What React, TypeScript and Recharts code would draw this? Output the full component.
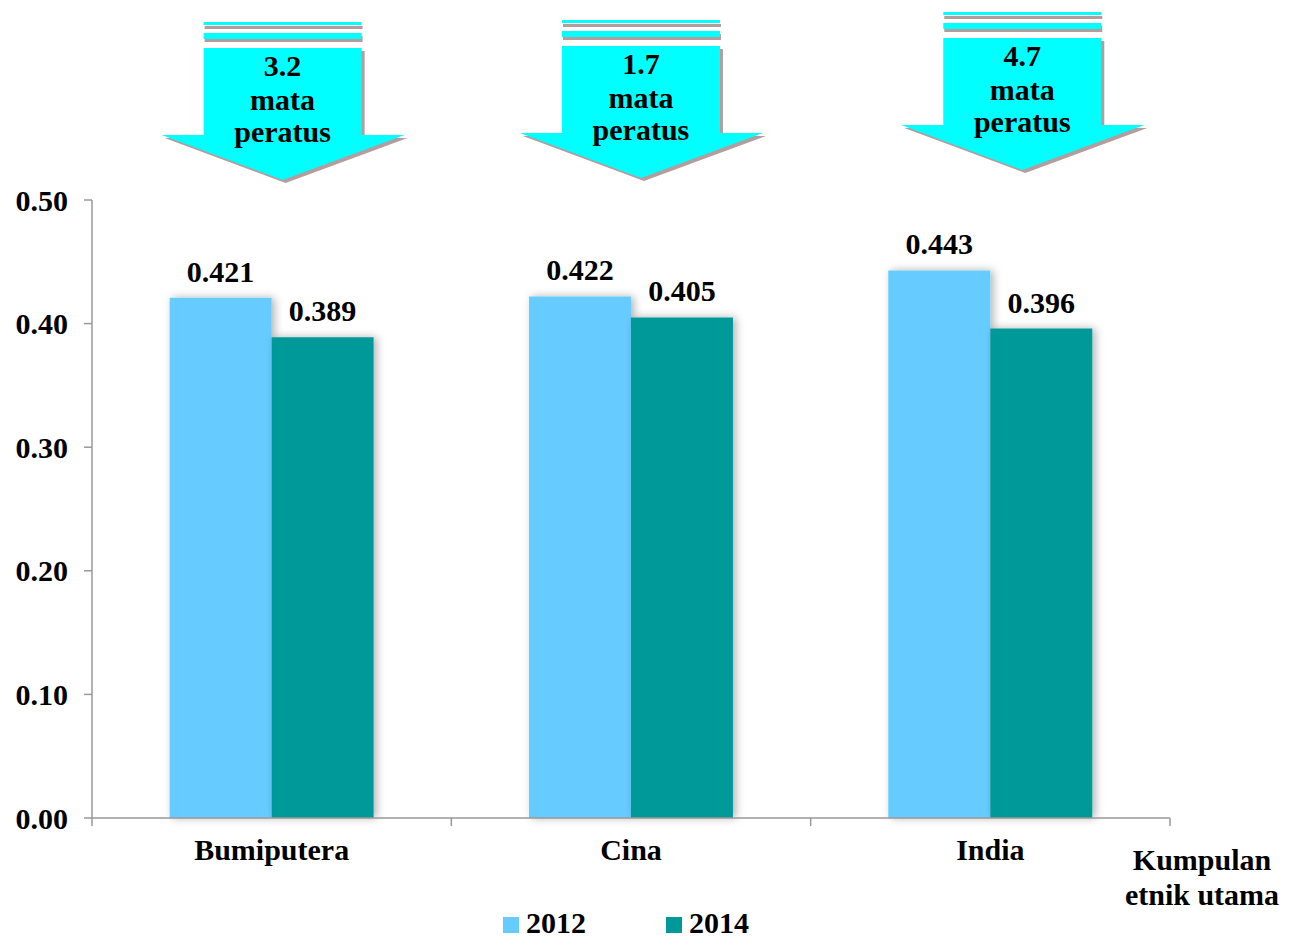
import { Bar, BarChart, Label, LabelList, Legend, XAxis, YAxis } from "recharts"

const CATEGORIES = ["Bumiputera", "Cina", "India"]
const GINI_2012 = [0.421, 0.422, 0.443]
const GINI_2014 = [0.389, 0.405, 0.396]
const DROP_TEXT = ["3.2", "1.7", "4.7"]
const Y_TICKS = [0, 0.1, 0.2, 0.3, 0.4, 0.5]

const SERIES = [
  { key: "y2012", name: "2012", color: "#66CCFF" },
  { key: "y2014", name: "2014", color: "#009999" },
]

const data = CATEGORIES.map((c, i) => ({ cat: c, y2012: GINI_2012[i], y2014: GINI_2014[i] }))

// layout
const W = 1300
const H = 939
const PLOT_LEFT = 92
const PLOT_RIGHT = 1170
const BAND = (PLOT_RIGHT - PLOT_LEFT) / CATEGORIES.length
// arrows sit a little off the category centre in the original
const ARROW_DX = [11, 10, 32]
const ARROW_TOP = [22, 20, 12]

const FONT = "'Liberation Serif', serif"
const FS = 30
const AXIS = "#999999"
const CYAN = "#00FFFF"
const SHADOW = "#b39d9d"

function Arrow({ cx, top, value }: { cx: number; top: number; value: string }) {
  const pts = [
    [cx - 79, top + 26],
    [cx + 79, top + 26],
    [cx + 79, top + 113],
    [cx + 122, top + 113],
    [cx, top + 158],
    [cx - 121, top + 113],
    [cx - 79, top + 113],
  ]
  const poly = (dx: number, dy: number) => pts.map(p => `${p[0] + dx},${p[1] + dy}`).join(" ")
  return (
    <g>
      <rect x={cx - 78} y={top + 4} width={158} height={3} fill={SHADOW} />
      <rect x={cx - 79} y={top} width={158} height={3} fill={CYAN} />
      <rect x={cx - 78} y={top + 14} width={158} height={6} fill={SHADOW} />
      <rect x={cx - 79} y={top + 11} width={158} height={6} fill={CYAN} />
      <polygon points={poly(3, 3)} fill={SHADOW} />
      <polygon points={poly(0, 0)} fill={CYAN} />
      <g fontFamily={FONT} fontSize={FS} fontWeight="bold" textAnchor="middle" fill="#000">
        <text x={cx} y={top + 54}>{value}</text>
        <text x={cx} y={top + 88}>mata</text>
        <text x={cx} y={top + 120}>peratus</text>
      </g>
    </g>
  )
}

function renderArrow(props: any) {
  const vb = props.viewBox ?? props
  const i = props.index ?? 0
  const cx = vb.x + ARROW_DX[i]
  return <Arrow key={`arrow-${i}`} cx={cx} top={ARROW_TOP[i]} value={DROP_TEXT[i]} />
}

function CatTick(props: any) {
  const { x, y, payload } = props
  const i = props.index ?? payload?.index ?? 0
  const axisY = y - 8
  const left = PLOT_LEFT + i * BAND
  return (
    <g>
      <line x1={left} x2={left} y1={axisY} y2={axisY + 8} stroke={AXIS} strokeWidth={1.5} />
      {i === CATEGORIES.length - 1 && (
        <line x1={left + BAND} x2={left + BAND} y1={axisY} y2={axisY + 8} stroke={AXIS} strokeWidth={1.5} />
      )}
      <text x={x} y={y + 34} textAnchor="middle" fontFamily={FONT} fontSize={FS} fontWeight="bold" fill="#000">
        {payload.value}
      </text>
    </g>
  )
}

function AxisTitle(props: any) {
  const vb = props.viewBox
  const x = vb.x + vb.width + 32
  return (
    <g fontFamily={FONT} fontSize={FS} fontWeight="bold" textAnchor="middle" fill="#000">
      <text x={x} y={vb.y + 52}>Kumpulan</text>
      <text x={x} y={vb.y + 87}>etnik utama</text>
    </g>
  )
}

function LegendBox() {
  return (
    <div style={{ display: "flex", justifyContent: "center", paddingRight: 48, gap: 80, height: 30, lineHeight: "30px" }}>
      {SERIES.map(s => (
        <div key={s.key} style={{ display: "flex", alignItems: "center", fontFamily: FONT, fontSize: FS, fontWeight: "bold" }}>
          <span style={{ display: "inline-block", width: 16, height: 16, background: s.color, marginRight: 7, marginTop: 4 }} />
          {s.name}
        </div>
      ))}
    </div>
  )
}

export default function App() {
  return (
    <div style={{ position: "absolute", left: 0, top: 0, width: W, height: H, background: "#fff" }}>
      <BarChart
        width={W}
        height={H}
        data={data}
        margin={{ top: 200, right: W - PLOT_RIGHT, bottom: 41, left: 12 }}
        barCategoryGap="21.6%"
        barGap={0}
      >
        <defs>
          <filter id="barShadow" x="-20%" y="-20%" width="140%" height="140%">
            <feDropShadow dx={3} dy={0} stdDeviation={4} floodColor="#000" floodOpacity={0.3} />
          </filter>
        </defs>
        <XAxis
          dataKey="cat"
          height={50}
          tickSize={8}
          tickMargin={0}
          tickLine={false}
          axisLine={{ stroke: AXIS, strokeWidth: 1.5 }}
          tick={<CatTick />}
          interval={0}
        >
          <Label content={<AxisTitle />} />
        </XAxis>
        <YAxis
          width={80}
          domain={[0, 0.5]}
          ticks={Y_TICKS}
          tickFormatter={(v: number) => v.toFixed(2)}
          tickSize={8}
          tickMargin={16}
          axisLine={{ stroke: AXIS, strokeWidth: 1.5 }}
          tickLine={{ stroke: AXIS, strokeWidth: 1.5 }}
          tick={{ fontFamily: FONT, fontSize: FS, fontWeight: "bold", fill: "#000" }}
        />
        <Legend verticalAlign="bottom" height={30} content={<LegendBox />} wrapperStyle={{ left: 0, width: W, bottom: 1 }} />
        {SERIES.map(s => (
          <Bar key={s.key} dataKey={s.key} name={s.name} fill={s.color} filter="url(#barShadow)" isAnimationActive={false}>
            <LabelList
              dataKey={s.key}
              position="top"
              offset={16}
              formatter={(v: any) => Number(v).toFixed(3)}
              fontFamily={FONT}
              fontSize={FS}
              fontWeight="bold"
              fill="#000"
            />
            {s.key === "y2014" && <LabelList dataKey={s.key} content={renderArrow} />}
          </Bar>
        ))}
      </BarChart>
    </div>
  )
}
